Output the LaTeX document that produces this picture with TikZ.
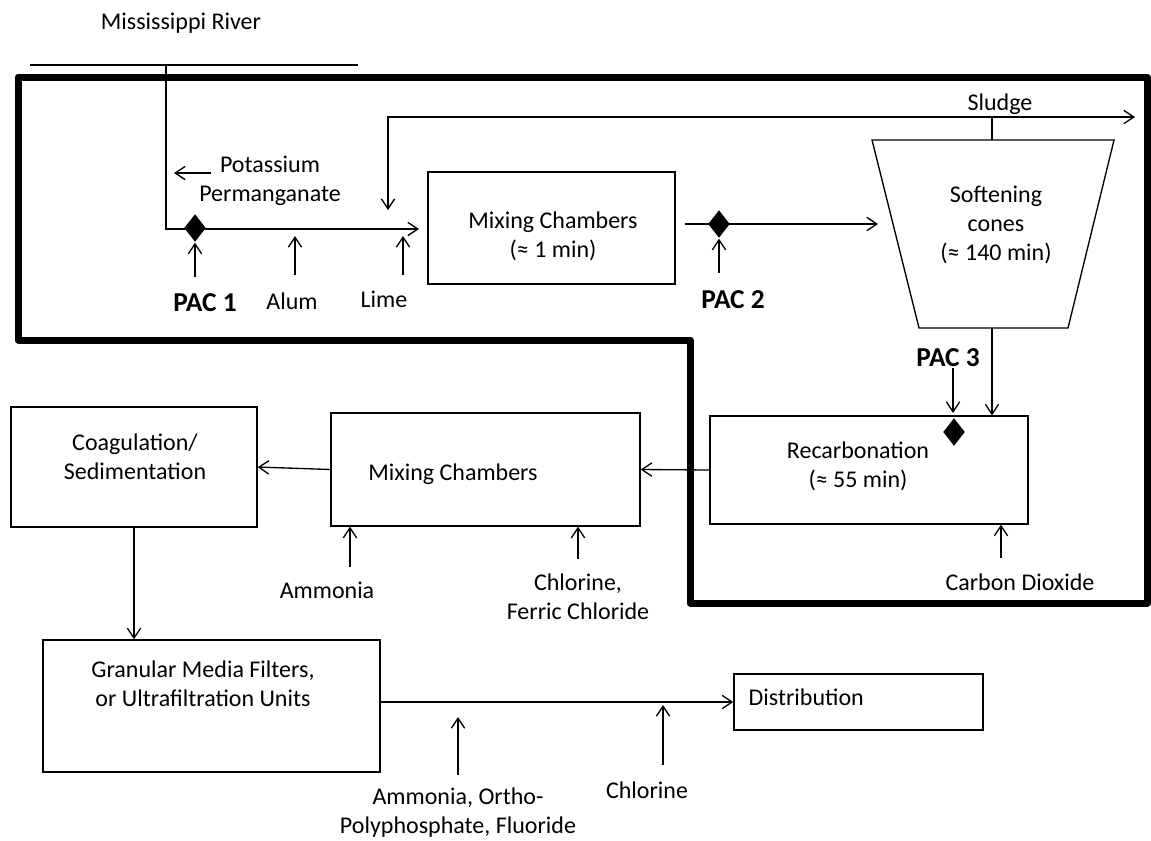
\documentclass[tikz,border=0pt]{standalone}
\usepackage{fontspec}
\setmainfont{Carlito}
\usetikzlibrary{arrows.meta,shapes.geometric}
\begin{document}
\begin{tikzpicture}[x=0.75pt,y=-0.75pt,
  line width=1pt,
  arr/.style={-{Straight Barb[length=7.5pt,width=10pt]}},
  arrboth/.style={{Straight Barb[length=7.5pt,width=10pt]}-{Straight Barb[length=7.5pt,width=10pt]}},
  box/.style={draw, inner sep=0pt},
  txt/.style={font=\fontsize{18}{21.75}\selectfont, align=center, inner sep=0pt},
  pac/.style={font=\fontsize{20.5}{23}\selectfont\bfseries, inner sep=0pt},
  dia/.style={shape=diamond, fill=black, draw=none, inner sep=0pt, minimum width=16.5pt, minimum height=21pt},
  frame/.style={line width=5.25pt, line join=round}]
\useasboundingbox (0,0) rectangle (1151,840);

% thick frame
\draw[frame] (18,77) -- (1147,77) -- (1147,603) -- (690,603) -- (690,340) -- (18,340) -- cycle;

% river
\node[txt] (rivlbl) at (181,23) {Mississippi River};
\coordinate (rivL) at (30,65);
\coordinate (rivR) at (358,65);
\draw (rivL) -- (rivR);
\coordinate (intake) at (166,65);

% mixing chambers 1
\node[box, minimum width=185.25pt, minimum height=84pt] (mix1) at (551.5,228) {};
\node[txt] (mix1t) at (553,236) {Mixing Chambers\\(≈ 1 min)};

\coordinate (feedend) at (419,229);
\draw[arr] (intake) |- (feedend);

% potassium permanganate
\node[txt] (kmno) at (270,181) {Potassium\\Permanganate};
\coordinate (kmnoS) at (211,173);
\coordinate (kmnoE) at (174,173);
\draw[arr] (kmnoS) -- (kmnoE);

% PAC 1
\node[dia] (d1) at (195,228) {};
\node[pac] (pac1) at (205,303) {PAC 1};
\coordinate (pac1s) at (195,277);
\draw[arr] (pac1s) -- (d1.south);

% Alum, Lime
\node[txt] (alum) at (292,301) {Alum};
\coordinate (alumS) at (295,275);
\coordinate (alumE) at (295,236);
\draw[arr] (alumS) -- (alumE);
\node[txt] (lime) at (384,299) {Lime};
\coordinate (limeS) at (403,275);
\coordinate (limeE) at (403,236);
\draw[arr] (limeS) -- (limeE);

% sludge loop
\coordinate (slL) at (388,117);
\coordinate (slR) at (1135,117);
\coordinate (limeret) at (388,210);
\draw[arrboth] (limeret) -- (slL) -- (slR);
\node[txt] (sludge) at (1000,104) {Sludge};

% softening cone
\coordinate (coneTL) at (872,140);
\coordinate (coneTR) at (1114,140);
\coordinate (coneBR) at (1068,328);
\coordinate (coneBL) at (919,328);
\draw (coneTL) -- (coneTR) -- (coneBR) -- (coneBL) -- cycle;
\coordinate (conetop) at (992,140);
\coordinate (conebot) at (992,328);
\coordinate (conein) at (878,224);
\draw (conetop) -- (conetop |- slL);
\node[txt] (conet) at (996,225) {Softening\\cones\\(≈ 140 min)};

% mix1 -> cone, PAC 2
\coordinate (m1out) at (685,224);
\draw[arr] (m1out) -- (conein);
\node[dia] (d2) at (719,224) {};
\node[pac] (pac2) at (733,300) {PAC 2};
\coordinate (pac2s) at (719,273);
\draw[arr] (pac2s) -- (d2.south);

% recarbonation
\node[box, minimum width=238.5pt, minimum height=81pt] (recarb) at (869,470) {};
\node[txt] (recarbt) at (858,466) {Recarbonation\\(≈ 55 min)};
\draw[arr] (conebot) -- (conebot |- recarb.north);
\node[pac] (pac3) at (948,358) {PAC 3};
\coordinate (pac3s) at (953,368);
\coordinate (pac3e) at (953,413);
\draw[arr] (pac3s) -- (pac3e);
\node[dia] (d3) at (954,432) {};
\node[txt] (co2) at (1020,582) {Carbon Dioxide};
\coordinate (co2s) at (1001,558);
\draw[arr] (co2s) -- (co2s |- recarb.south);

% mixing chambers 2
\node[box, minimum width=231.75pt, minimum height=84.75pt] (mix2) at (485.5,469.5) {};
\node[txt] (mix2t) at (453,474) {Mixing Chambers};
\draw[arr] (recarb.west) -- (mix2.east);
\node[txt] (amm) at (327,590) {Ammonia};
\coordinate (amms) at (350,567);
\draw[arr] (amms) -- (amms |- mix2.south);
\node[txt] (clfe) at (578,597) {Chlorine,\\Ferric Chloride};
\coordinate (clfes) at (578,559);
\draw[arr] (clfes) -- (clfes |- mix2.south);

% coagulation
\node[box, minimum width=184.5pt, minimum height=90pt] (coag) at (134,467) {};
\node[txt] (coagt) at (135,457) {Coagulation/\\Sedimentation};
\draw[arr] (mix2.west) -- (coag.east);

% granular media
\node[box, minimum width=252.75pt, minimum height=99pt] (gran) at (211.5,706) {};
\node[txt] (grant) at (203,684) {Granular Media Filters,\\or Ultrafiltration Units};
\draw[arr] (coag.south) -- (coag.south |- gran.north);

% distribution
\node[box, minimum width=186.75pt, minimum height=42pt] (dist) at (858.5,702) {};
\node[txt, anchor=west] (distt) at (748,697) {Distribution};
\draw[arr] (gran.east |- dist.west) -- (dist.west);
\node[txt] (ammf) at (458,813) {Ammonia, Ortho-\\Polyphosphate, Fluoride};
\coordinate (ammfs) at (458,775);
\coordinate (ammfe) at (458,717);
\draw[arr] (ammfs) -- (ammfe);
\node[txt] (cl2) at (647,790) {Chlorine};
\coordinate (cl2s) at (663,765);
\coordinate (cl2e) at (663,705);
\draw[arr] (cl2s) -- (cl2e);
\end{tikzpicture}
\end{document}
